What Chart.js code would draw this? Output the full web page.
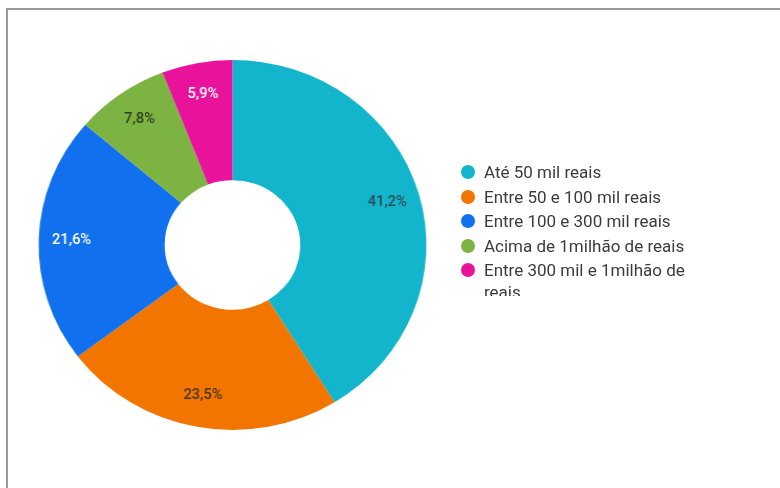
<!DOCTYPE html>
<html>
<head>
<meta charset="utf-8">
<script src="https://cdn.jsdelivr.net/npm/chart.js@4"></script>
<style>
  html, body { margin: 0; padding: 0; background: #fff; }
  body { width: 780px; height: 488px; overflow: hidden; position: relative; font-family: Roboto, "Noto Sans", sans-serif; }
  #frame { position: absolute; left: 6px; top: 8px; width: 800px; height: 500px;
           border-top: 2px solid #9a9a9a; border-left: 2px solid #9a9a9a; }
  #wrap { position: absolute; left: 0; top: 0; width: 780px; height: 488px;
          transform: scaleX(1.048); transform-origin: 232.5px 245px; }
  #legend { position: absolute; left: 460px; top: 161px; width: 240px; height: 135px; overflow: hidden; }
  #legend .item { display: flex; align-items: flex-start; font-size: 17px; line-height: 22px;
                  color: #3c3c3c; margin-bottom: 2.5px; }
  #legend .dot { flex: 0 0 14px; width: 14px; height: 14px; border-radius: 50%; margin: 4px 9px 0 1px; }
</style>
</head>
<body>
<div id="frame"></div>
<div id="wrap"><canvas id="chart" width="780" height="488"></canvas></div>
<div id="legend"></div>
<script>
// faixas de renda (ordem do gráfico, sentido horário a partir do topo)
const categories = [
  'Até 50 mil reais',
  'Entre 50 e 100 mil reais',
  'Entre 100 e 300 mil reais',
  'Acima de 1milhão de reais',
  'Entre 300 mil e 1milhão de reais'
];
const counts = [21, 12, 11, 4, 3];
const sliceColors = ['#12b5cb', '#f27500', '#1170ee', '#7cb342', '#e9129b'];
const labelColors = ['#2d4a55', '#4a3418', '#ffffff', '#2f4020', '#ffffff'];

// etiquetas de percentagem dentro das fatias
const percentLabels = {
  id: 'percentLabels',
  afterDatasetsDraw(chart) {
    const ctx = chart.ctx;
    const meta = chart.getDatasetMeta(0);
    const total = counts.reduce((a, b) => a + b, 0);
    ctx.save();
    ctx.font = '500 14px Roboto, sans-serif';
    ctx.textAlign = 'center';
    ctx.textBaseline = 'middle';
    meta.data.forEach(function (arc, i) {
      const mid = (arc.startAngle + arc.endAngle) / 2;
      const r = arc.outerRadius * 0.83;
      const x = arc.x + Math.cos(mid) * r;
      const y = arc.y + Math.sin(mid) * r;
      const pct = (counts[i] / total * 100).toFixed(1).replace('.', ',') + '%';
      ctx.fillStyle = labelColors[i];
      ctx.fillText(pct, x, y);
    });
    ctx.restore();
  }
};

const chart = new Chart(document.getElementById('chart'), {
  type: 'doughnut',
  data: {
    labels: categories,
    datasets: [{
      data: counts,
      backgroundColor: sliceColors,
      borderWidth: 0
    }]
  },
  options: {
    responsive: false,
    animation: false,
    cutout: '35%',
    layout: { padding: { left: 47.5, top: 60, right: 362.5, bottom: 58 } },
    plugins: {
      legend: { display: false },
      tooltip: { enabled: false }
    }
  },
  plugins: [percentLabels]
});

// legenda em HTML (permite quebra de linha como no original)
const legendEl = document.getElementById('legend');
categories.forEach(function (name, i) {
  const item = document.createElement('div');
  item.className = 'item';
  const dot = document.createElement('span');
  dot.className = 'dot';
  dot.style.background = sliceColors[i];
  const txt = document.createElement('span');
  txt.textContent = name;
  item.appendChild(dot);
  item.appendChild(txt);
  legendEl.appendChild(item);
});
</script>
</body>
</html>
